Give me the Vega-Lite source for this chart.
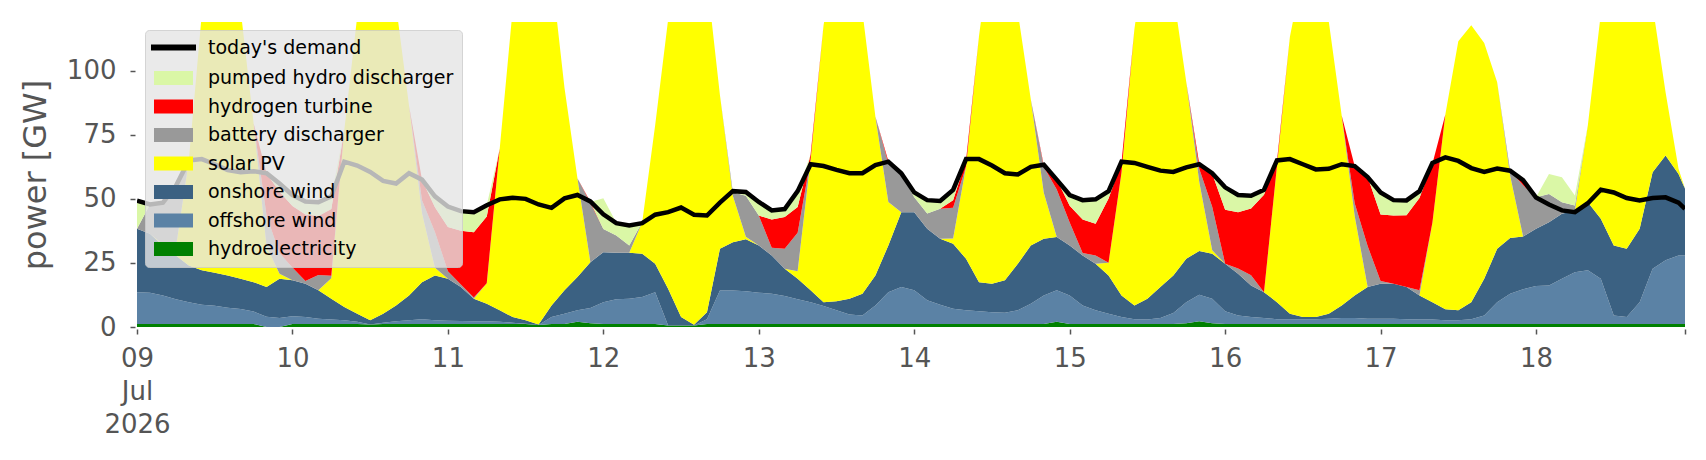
{
"$schema": "https://vega.github.io/schema/vega-lite/v6.json",
"width": 1548,
"height": 305,
"autosize": {"type": "none"},
"padding": {"left": 137, "top": 22, "right": 21, "bottom": 133},
"background": "white",
"config": {"font": "DejaVu Sans", "view": {"stroke": null}},
"datasets": {
"ranks": [
{"k":"hy","source":"hydroelectricity","rank":1},
{"k":"off","source":"offshore wind","rank":2},
{"k":"on","source":"onshore wind","rank":3},
{"k":"pv","source":"solar PV","rank":4},
{"k":"bat","source":"battery discharger","rank":5},
{"k":"h2","source":"hydrogen turbine","rank":6},
{"k":"phs","source":"pumped hydro discharger","rank":7}
]
},
"data": {"values": [
{"t":"2026-07-09T00:00Z","hy":1.2,"off":12.4,"on":24.7,"pv":0,"bat":0,"h2":0,"phs":11,"d":49.3},
{"t":"2026-07-09T02:00Z","hy":1.2,"off":12.2,"on":23.0,"pv":0,"bat":11.4,"h2":0,"phs":0,"d":47.8},
{"t":"2026-07-09T04:00Z","hy":1.2,"off":11.1,"on":19.5,"pv":0.5,"bat":16,"h2":0,"phs":0,"d":48.5},
{"t":"2026-07-09T06:00Z","hy":1.2,"off":9.6,"on":17.1,"pv":3,"bat":24,"h2":0,"phs":0,"d":55},
{"t":"2026-07-09T08:00Z","hy":1.2,"off":8.5,"on":14.3,"pv":41,"bat":0,"h2":0,"phs":0,"d":65},
{"t":"2026-07-09T10:00Z","hy":1.2,"off":7.5,"on":13.4,"pv":100,"bat":0,"h2":0,"phs":0,"d":65.5},
{"t":"2026-07-09T12:00Z","hy":1.2,"off":7.1,"on":12.9,"pv":140,"bat":0,"h2":0,"phs":0,"d":63.5},
{"t":"2026-07-09T14:00Z","hy":1.2,"off":6.3,"on":12.6,"pv":145,"bat":0,"h2":0,"phs":0,"d":61.2},
{"t":"2026-07-09T16:00Z","hy":1.2,"off":5.8,"on":11.8,"pv":105,"bat":0,"h2":0,"phs":0,"d":60.4},
{"t":"2026-07-09T18:00Z","hy":1.2,"off":4.8,"on":11.5,"pv":62,"bat":0,"h2":0,"phs":0,"d":60.8},
{"t":"2026-07-09T20:00Z","hy":0,"off":4.0,"on":11.6,"pv":16,"bat":12,"h2":16.4,"phs":0,"d":60},
{"t":"2026-07-09T22:00Z","hy":0,"off":3.5,"on":15.3,"pv":2,"bat":8,"h2":24,"phs":3,"d":56},
{"t":"2026-07-10T00:00Z","hy":1.2,"off":3.0,"on":14.0,"pv":0,"bat":5,"h2":24,"phs":4.3,"d":51.5},
{"t":"2026-07-10T02:00Z","hy":1.2,"off":2.7,"on":13.0,"pv":0,"bat":1,"h2":26,"phs":5,"d":49},
{"t":"2026-07-10T04:00Z","hy":1.2,"off":2.0,"on":11.1,"pv":0,"bat":6,"h2":23,"phs":5.4,"d":48.7},
{"t":"2026-07-10T06:00Z","hy":1.2,"off":1.7,"on":8.1,"pv":8,"bat":1,"h2":26,"phs":5,"d":51},
{"t":"2026-07-10T08:00Z","hy":1.2,"off":1.4,"on":5.2,"pv":69,"bat":0,"h2":0,"phs":0,"d":64.5},
{"t":"2026-07-10T10:00Z","hy":1.2,"off":0.8,"on":3.2,"pv":116,"bat":0,"h2":0,"phs":0,"d":63},
{"t":"2026-07-10T12:00Z","hy":1.0,"off":0,"on":1.6,"pv":147,"bat":0,"h2":0,"phs":0,"d":60.5},
{"t":"2026-07-10T14:00Z","hy":1.2,"off":0.5,"on":3.5,"pv":150,"bat":0,"h2":0,"phs":0,"d":57},
{"t":"2026-07-10T16:00Z","hy":1.2,"off":1.0,"on":6.2,"pv":117,"bat":0,"h2":0,"phs":0,"d":56},
{"t":"2026-07-10T18:00Z","hy":1.2,"off":1.4,"on":9.7,"pv":74,"bat":0,"h2":0,"phs":0,"d":60},
{"t":"2026-07-10T20:00Z","hy":1.2,"off":1.8,"on":14.5,"pv":27,"bat":5,"h2":8,"phs":0,"d":57.5},
{"t":"2026-07-10T22:00Z","hy":1.2,"off":1.4,"on":17.5,"pv":3,"bat":14,"h2":9.6,"phs":4.3,"d":51},
{"t":"2026-07-11T00:00Z","hy":1.2,"off":1.2,"on":16.4,"pv":0,"bat":3,"h2":17.2,"phs":8,"d":47},
{"t":"2026-07-11T02:00Z","hy":1.2,"off":1.1,"on":13.3,"pv":0,"bat":1,"h2":21,"phs":7.5,"d":45.2},
{"t":"2026-07-11T04:00Z","hy":1.2,"off":1.0,"on":8.8,"pv":0,"bat":0.5,"h2":25.5,"phs":7.8,"d":44.8},
{"t":"2026-07-11T06:00Z","hy":1.2,"off":1.0,"on":6.9,"pv":8,"bat":0,"h2":26,"phs":4.4,"d":47.5},
{"t":"2026-07-11T08:00Z","hy":1.2,"off":0.8,"on":4.5,"pv":63,"bat":0,"h2":0,"phs":0,"d":49.8},
{"t":"2026-07-11T10:00Z","hy":1.2,"off":0.5,"on":2.2,"pv":120,"bat":0,"h2":0,"phs":0,"d":50.4},
{"t":"2026-07-11T12:00Z","hy":1.2,"off":0.1,"on":1.3,"pv":150,"bat":0,"h2":0,"phs":0,"d":50},
{"t":"2026-07-11T14:00Z","hy":0.8,"off":0,"on":0.2,"pv":148,"bat":0,"h2":0,"phs":0,"d":47.8},
{"t":"2026-07-11T16:00Z","hy":1.2,"off":2.7,"on":4.5,"pv":130,"bat":0,"h2":0,"phs":0,"d":46.5},
{"t":"2026-07-11T18:00Z","hy":1.2,"off":4.0,"on":9.1,"pv":79,"bat":0,"h2":0,"phs":0,"d":50.2},
{"t":"2026-07-11T20:00Z","hy":2.0,"off":4.5,"on":13.0,"pv":38.5,"bat":0,"h2":0,"phs":0,"d":51.5},
{"t":"2026-07-11T22:00Z","hy":1.5,"off":5.9,"on":17.9,"pv":0,"bat":23,"h2":0.5,"phs":0,"d":49},
{"t":"2026-07-12T00:00Z","hy":1.2,"off":8.5,"on":19.5,"pv":0,"bat":9,"h2":0,"phs":12,"d":44},
{"t":"2026-07-12T02:00Z","hy":1.2,"off":9.6,"on":18.2,"pv":0,"bat":6.7,"h2":0,"phs":5,"d":40.5},
{"t":"2026-07-12T04:00Z","hy":1.2,"off":9.8,"on":18.0,"pv":0,"bat":2.8,"h2":0,"phs":7.8,"d":39.6},
{"t":"2026-07-12T06:00Z","hy":1.2,"off":10.5,"on":16.9,"pv":12.3,"bat":0,"h2":0,"phs":0,"d":40.5},
{"t":"2026-07-12T08:00Z","hy":1.2,"off":12.4,"on":11.1,"pv":54,"bat":0,"h2":0,"phs":0,"d":43.8},
{"t":"2026-07-12T10:00Z","hy":0.6,"off":0,"on":14.3,"pv":105,"bat":0,"h2":0,"phs":0,"d":44.8},
{"t":"2026-07-12T12:00Z","hy":0.6,"off":0,"on":3.3,"pv":140,"bat":0,"h2":0,"phs":0,"d":46.6},
{"t":"2026-07-12T14:00Z","hy":0.6,"off":0,"on":0.3,"pv":150,"bat":0,"h2":0,"phs":0,"d":43.8},
{"t":"2026-07-12T16:00Z","hy":1.2,"off":1.8,"on":2.8,"pv":130,"bat":0,"h2":0,"phs":0,"d":43.5},
{"t":"2026-07-12T18:00Z","hy":1.2,"off":13.0,"on":16.3,"pv":60,"bat":0,"h2":0,"phs":0,"d":48.5},
{"t":"2026-07-12T20:00Z","hy":1.2,"off":13.0,"on":18.9,"pv":18,"bat":1.5,"h2":0,"phs":0,"d":53},
{"t":"2026-07-12T22:00Z","hy":1.2,"off":12.7,"on":20.3,"pv":1,"bat":16,"h2":0,"phs":1.5,"d":52.7},
{"t":"2026-07-13T00:00Z","hy":1.2,"off":12.2,"on":18.4,"pv":0,"bat":11.7,"h2":0,"phs":5.3,"d":48.8},
{"t":"2026-07-13T02:00Z","hy":1.2,"off":11.8,"on":14.9,"pv":0,"bat":3,"h2":11,"phs":3.6,"d":45.5},
{"t":"2026-07-13T04:00Z","hy":1.2,"off":10.9,"on":10.6,"pv":0,"bat":7.8,"h2":12.4,"phs":3.1,"d":46},
{"t":"2026-07-13T06:00Z","hy":1.2,"off":9.6,"on":8.0,"pv":3,"bat":15,"h2":10,"phs":6,"d":53},
{"t":"2026-07-13T08:00Z","hy":1.2,"off":8.5,"on":4.6,"pv":51,"bat":0,"h2":2,"phs":0,"d":63.5},
{"t":"2026-07-13T10:00Z","hy":1.2,"off":7.0,"on":1.5,"pv":108,"bat":0,"h2":0,"phs":0,"d":62.8},
{"t":"2026-07-13T12:00Z","hy":1.2,"off":5.3,"on":3.5,"pv":140,"bat":0,"h2":0,"phs":0,"d":61.3},
{"t":"2026-07-13T14:00Z","hy":1.2,"off":3.7,"on":6.1,"pv":150,"bat":0,"h2":0,"phs":0,"d":60},
{"t":"2026-07-13T16:00Z","hy":1.2,"off":3.3,"on":8.5,"pv":110,"bat":0,"h2":0,"phs":0,"d":60},
{"t":"2026-07-13T18:00Z","hy":1.2,"off":7.2,"on":11.7,"pv":62,"bat":0,"h2":0,"phs":0,"d":63.2},
{"t":"2026-07-13T20:00Z","hy":1.2,"off":12.4,"on":18.2,"pv":17,"bat":15,"h2":1,"phs":0,"d":64.5},
{"t":"2026-07-13T22:00Z","hy":1.2,"off":14.4,"on":29.2,"pv":0,"bat":15.2,"h2":0,"phs":0,"d":60},
{"t":"2026-07-14T00:00Z","hy":1.2,"off":13.1,"on":30.5,"pv":0,"bat":5.8,"h2":0,"phs":2,"d":52.5},
{"t":"2026-07-14T02:00Z","hy":1.2,"off":9.2,"on":27.9,"pv":0,"bat":6,"h2":0,"phs":5,"d":49.5},
{"t":"2026-07-14T04:00Z","hy":1.2,"off":7.5,"on":25.7,"pv":0,"bat":11.7,"h2":0,"phs":3.3,"d":49.2},
{"t":"2026-07-14T06:00Z","hy":1.2,"off":5.9,"on":25.4,"pv":2,"bat":12,"h2":3,"phs":4,"d":53.5},
{"t":"2026-07-14T08:00Z","hy":1.2,"off":5.3,"on":20.1,"pv":36,"bat":0,"h2":2.5,"phs":0,"d":65.5},
{"t":"2026-07-14T10:00Z","hy":1.2,"off":4.9,"on":11.4,"pv":96,"bat":0,"h2":0,"phs":0,"d":65.5},
{"t":"2026-07-14T12:00Z","hy":1.2,"off":4.6,"on":11.1,"pv":135,"bat":0,"h2":0,"phs":0,"d":63},
{"t":"2026-07-14T14:00Z","hy":1.2,"off":4.4,"on":12.6,"pv":145,"bat":0,"h2":0,"phs":0,"d":60},
{"t":"2026-07-14T16:00Z","hy":1.2,"off":5.3,"on":18.2,"pv":98,"bat":0,"h2":0,"phs":0,"d":59.5},
{"t":"2026-07-14T18:00Z","hy":1.2,"off":7.9,"on":22.7,"pv":57,"bat":0,"h2":0,"phs":0,"d":62.5},
{"t":"2026-07-14T20:00Z","hy":1.2,"off":11.1,"on":22.1,"pv":18,"bat":10,"h2":0.7,"phs":0,"d":63.3},
{"t":"2026-07-14T22:00Z","hy":2.0,"off":12.3,"on":20.8,"pv":0,"bat":18.5,"h2":4,"phs":0,"d":57.5},
{"t":"2026-07-15T00:00Z","hy":1.2,"off":11.1,"on":19.5,"pv":0,"bat":9,"h2":6.5,"phs":4.2,"d":51.5},
{"t":"2026-07-15T02:00Z","hy":1.2,"off":7.2,"on":19.5,"pv":0,"bat":1,"h2":13,"phs":7.6,"d":49.5},
{"t":"2026-07-15T04:00Z","hy":1.2,"off":5.3,"on":18.2,"pv":0,"bat":3.2,"h2":12.4,"phs":9.1,"d":49.8},
{"t":"2026-07-15T06:00Z","hy":1.2,"off":4.0,"on":14.9,"pv":5,"bat":0,"h2":25,"phs":3,"d":53},
{"t":"2026-07-15T08:00Z","hy":1.2,"off":2.7,"on":8.4,"pv":48,"bat":0,"h2":4,"phs":0,"d":64.5},
{"t":"2026-07-15T10:00Z","hy":1.2,"off":1.8,"on":5.4,"pv":108,"bat":0,"h2":0,"phs":0,"d":64},
{"t":"2026-07-15T12:00Z","hy":1.2,"off":1.7,"on":8.1,"pv":140,"bat":0,"h2":0,"phs":0,"d":62.5},
{"t":"2026-07-15T14:00Z","hy":1.2,"off":2.3,"on":12.1,"pv":140,"bat":0,"h2":0,"phs":0,"d":61},
{"t":"2026-07-15T16:00Z","hy":1.2,"off":4.3,"on":14.6,"pv":110,"bat":0,"h2":0,"phs":0,"d":60.5},
{"t":"2026-07-15T18:00Z","hy":1.5,"off":8.2,"on":16.9,"pv":69,"bat":0,"h2":0,"phs":0,"d":62.3},
{"t":"2026-07-15T20:00Z","hy":2.2,"off":10.4,"on":17.1,"pv":27,"bat":5,"h2":2,"phs":0,"d":63.5},
{"t":"2026-07-15T22:00Z","hy":1.5,"off":9.5,"on":17.6,"pv":1.3,"bat":17,"h2":13,"phs":0,"d":60},
{"t":"2026-07-16T00:00Z","hy":1.2,"off":4.9,"on":18.6,"pv":0,"bat":0,"h2":21,"phs":8.8,"d":54.5},
{"t":"2026-07-16T02:00Z","hy":1.2,"off":3.3,"on":16.3,"pv":0,"bat":2,"h2":22,"phs":6.7,"d":51.5},
{"t":"2026-07-16T04:00Z","hy":1.2,"off":2.7,"on":12.3,"pv":0,"bat":4,"h2":26,"phs":5,"d":51.2},
{"t":"2026-07-16T06:00Z","hy":1.2,"off":2.3,"on":10.1,"pv":0,"bat":0,"h2":38,"phs":2,"d":53.5},
{"t":"2026-07-16T08:00Z","hy":1.2,"off":1.8,"on":6.7,"pv":53,"bat":0,"h2":2,"phs":0,"d":65},
{"t":"2026-07-16T10:00Z","hy":1.2,"off":1.8,"on":2.2,"pv":108,"bat":0,"h2":0,"phs":0,"d":65.5},
{"t":"2026-07-16T12:00Z","hy":1.2,"off":1.8,"on":0.9,"pv":135,"bat":0,"h2":0,"phs":0,"d":63.5},
{"t":"2026-07-16T14:00Z","hy":1.2,"off":1.8,"on":0.9,"pv":140,"bat":0,"h2":0,"phs":0,"d":61.5},
{"t":"2026-07-16T16:00Z","hy":1.2,"off":2.0,"on":2.0,"pv":114,"bat":0,"h2":0,"phs":0,"d":61.7},
{"t":"2026-07-16T18:00Z","hy":1.2,"off":2.3,"on":4.9,"pv":74,"bat":0,"h2":0,"phs":0,"d":63.5},
{"t":"2026-07-16T20:00Z","hy":1.2,"off":2.3,"on":8.8,"pv":31,"bat":5,"h2":14.5,"phs":0,"d":62.8},
{"t":"2026-07-16T22:00Z","hy":1.2,"off":2.0,"on":12.4,"pv":0,"bat":16,"h2":27,"phs":0,"d":58.5},
{"t":"2026-07-17T00:00Z","hy":1.2,"off":2.0,"on":13.7,"pv":0,"bat":1,"h2":26,"phs":8.5,"d":52.5},
{"t":"2026-07-17T02:00Z","hy":1.2,"off":2.0,"on":13.7,"pv":0,"bat":0,"h2":26.6,"phs":6,"d":49.5},
{"t":"2026-07-17T04:00Z","hy":1.2,"off":1.8,"on":12.6,"pv":0,"bat":0,"h2":28,"phs":5.8,"d":49.4},
{"t":"2026-07-17T06:00Z","hy":1.2,"off":1.7,"on":9.4,"pv":0,"bat":2,"h2":36,"phs":2,"d":53},
{"t":"2026-07-17T08:00Z","hy":1.2,"off":1.7,"on":6.8,"pv":31,"bat":0,"h2":23,"phs":0,"d":64},
{"t":"2026-07-17T10:00Z","hy":1.2,"off":1.4,"on":4.3,"pv":76,"bat":0,"h2":0,"phs":0,"d":66.2},
{"t":"2026-07-17T12:00Z","hy":1.2,"off":1.4,"on":3.9,"pv":105,"bat":0,"h2":0,"phs":0,"d":64.8},
{"t":"2026-07-17T14:00Z","hy":1.2,"off":1.8,"on":6.7,"pv":108,"bat":0,"h2":0,"phs":0,"d":62},
{"t":"2026-07-17T16:00Z","hy":1.2,"off":3.3,"on":14.3,"pv":92,"bat":0,"h2":0,"phs":0,"d":60.5},
{"t":"2026-07-17T18:00Z","hy":1.2,"off":8.5,"on":20.8,"pv":65,"bat":0,"h2":0,"phs":0,"d":61.8},
{"t":"2026-07-17T20:00Z","hy":1.2,"off":11.8,"on":21.7,"pv":24.4,"bat":2,"h2":0,"phs":0,"d":61},
{"t":"2026-07-17T22:00Z","hy":1.2,"off":13.5,"on":20.6,"pv":0,"bat":20,"h2":2,"phs":0,"d":57.3},
{"t":"2026-07-18T00:00Z","hy":1.2,"off":14.8,"on":22.3,"pv":0,"bat":12.3,"h2":0,"phs":0,"d":50.5},
{"t":"2026-07-18T02:00Z","hy":1.2,"off":15.0,"on":24.7,"pv":0,"bat":11,"h2":0,"phs":7.8,"d":47.8},
{"t":"2026-07-18T04:00Z","hy":1.2,"off":17.6,"on":25.4,"pv":0,"bat":4.5,"h2":0,"phs":9.7,"d":45.5},
{"t":"2026-07-18T06:00Z","hy":1.2,"off":20.2,"on":24.1,"pv":0,"bat":1.9,"h2":0,"phs":3.9,"d":44.8},
{"t":"2026-07-18T08:00Z","hy":1.2,"off":20.9,"on":26.6,"pv":30,"bat":0,"h2":0,"phs":0,"d":48.3},
{"t":"2026-07-18T10:00Z","hy":1.2,"off":17.6,"on":23.4,"pv":80,"bat":0,"h2":0,"phs":0,"d":53.6},
{"t":"2026-07-18T12:00Z","hy":1.2,"off":3.3,"on":27.3,"pv":100,"bat":0,"h2":0,"phs":0,"d":52.5},
{"t":"2026-07-18T14:00Z","hy":1.2,"off":2.7,"on":26.6,"pv":120,"bat":0,"h2":0,"phs":0,"d":50.3},
{"t":"2026-07-18T16:00Z","hy":1.2,"off":8.5,"on":28.6,"pv":100,"bat":0,"h2":0,"phs":0,"d":49.4},
{"t":"2026-07-18T18:00Z","hy":1.2,"off":21.5,"on":37.7,"pv":65,"bat":0,"h2":0,"phs":0,"d":50.3},
{"t":"2026-07-18T20:00Z","hy":1.2,"off":24.8,"on":40.9,"pv":24.7,"bat":0,"h2":0,"phs":0,"d":50.6},
{"t":"2026-07-18T22:00Z","hy":1.2,"off":26.7,"on":31.8,"pv":2,"bat":0,"h2":0,"phs":0,"d":48.5},
{"t":"2026-07-18T23:00Z","hy":1.2,"off":26.7,"on":26.0,"pv":0,"bat":0,"h2":0,"phs":0,"d":46.1}
]},
"layer": [
{
"transform": [
{"fold": ["hy","off","on","pv","bat","h2","phs"], "as": ["k","gw"]},
{"lookup": "k", "from": {"data": {"name": "ranks"}, "key": "k", "fields": ["source","rank"]}}
],
"mark": {"type": "area", "clip": true, "interpolate": "linear"},
"encoding": {
"x": {"field": "t", "type": "temporal",
"scale": {"type": "utc", "domain": [1783555200000, 1784415600000], "nice": false},
"axis": {"title": null,
"values": [1783555200000,1783641600000,1783728000000,1783814400000,1783900800000,1783987200000,1784073600000,1784160000000,1784246400000,1784332800000,1784415600000],
"labelExpr": "utcFormat(datum.value, '%d') == '09' ? ['09','Jul','2026'] : (utcFormat(datum.value, '%H') == '23' ? '' : utcFormat(datum.value, '%d'))",
"labelFontSize": 26, "labelLineHeight": 33, "labelColor": "#555555", "labelFont": "DejaVu Sans",
"tickColor": "#555555", "tickSize": 5, "tickWidth": 1.5, "offset": 2, "labelPadding": 11,
"domain": false, "grid": false, "labelAlign": "center", "labelBaseline": "top",
"labelOverlap": false, "labelFlush": false}},
"y": {"field": "gw", "type": "quantitative", "stack": "zero",
"scale": {"domain": [0, 119], "nice": false},
"axis": {"title": "power [GW]", "values": [0,25,50,75,100],
"labelFontSize": 26, "labelColor": "#555555", "labelFont": "DejaVu Sans",
"titleFontSize": 32, "titleFontWeight": "normal", "titleColor": "#555555", "titleFont": "DejaVu Sans",
"tickColor": "#555555", "tickSize": 5, "tickWidth": 1.5, "offset": 2, "labelPadding": 14, "titlePadding": 14,
"domain": false, "grid": false}},
"color": {"field": "source", "type": "nominal",
"scale": {"domain": ["today's demand","pumped hydro discharger","hydrogen turbine","battery discharger","solar PV","onshore wind","offshore wind","hydroelectricity"],
"range": ["#000000","#daf7a6","#ff0000","#999999","#ffff00","#3b6182","#5b82a5","#008000"]},
"legend": {"title": null, "orient": "top-left", "offset": 8, "padding": 8,
"fillColor": "rgba(229,229,229,0.8)", "strokeColor": "rgba(204,204,204,0.8)", "cornerRadius": 4,
"labelFontSize": 19, "labelColor": "#000000", "labelFont": "DejaVu Sans", "labelLimit": 400,
"symbolSize": 1600, "symbolOffset": 11, "labelOffset": 25, "rowPadding": 8.5, "symbolOpacity": 1, "zindex": 1,
"encode": {"symbols": {"update": {
"shape": {"signal": "datum.index === 0 ? 'M-1.125,0H1.125' : 'M-0.975,-0.35H0.975V0.35H-0.975Z'"},
"fill": {"signal": "datum.index === 0 ? 'transparent' : scale('color', datum.value)"},
"stroke": {"signal": "datum.index === 0 ? 'black' : 'transparent'"},
"strokeWidth": {"signal": "datum.index === 0 ? 6 : 0"},
"opacity": {"value": 1}
}}}}},
"order": {"field": "rank", "type": "quantitative"}
}
},
{
"mark": {"type": "line", "strokeWidth": 4.5, "clip": true},
"encoding": {
"x": {"field": "t", "type": "temporal"},
"y": {"field": "d", "type": "quantitative", "axis": {"title": "power [GW]"}},
"color": {"datum": "today's demand"}
}
}
]
}
